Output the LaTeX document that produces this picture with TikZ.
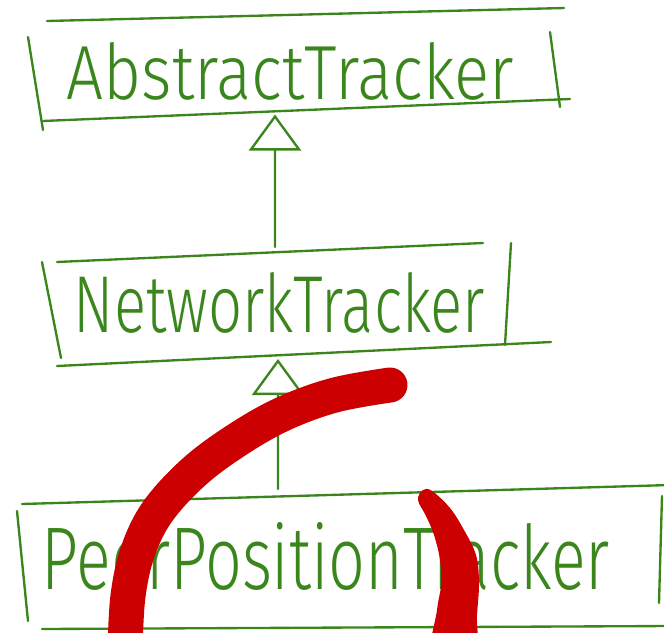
\documentclass[tikz,border=0pt]{standalone}
\usepackage{fontspec}
\newfontfamily\hand{Fira Sans Light}
\usetikzlibrary{arrows.meta}
\definecolor{pen}{RGB}{58,134,28}
\definecolor{marker}{RGB}{204,0,0}
\tikzset{
  cls/.style={inner sep=0,outer sep=0,text=pen},
  sketch/.style={draw=pen,line width=2pt,line cap=round},
  isa/.style={sketch,-{Triangle[open,fill=white,length=1.08cm,width=1.56cm]}},
  redpen/.style={draw=marker,line width=1.05cm,line cap=round},
}
\begin{document}
\begin{tikzpicture}[x=0.03cm,y=-0.03cm]
	\clip (0,0) rectangle (664,632);
	\node[cls,minimum width=15.6cm,minimum height=2.58cm] (abs) at (290.5,71.5) {\resizebox{13.41cm}{1.71cm}{\hand AbstractTracker}};
	\node[cls,minimum width=13.8cm,minimum height=3.36cm] (net) at (279.5,303) {\resizebox{12.33cm}{1.8cm}{\hand NetworkTracker}};
	\node[cls,minimum width=19cm,minimum height=4.05cm] (peer) at (326,556.5) {\resizebox{17.04cm}{2.01cm}{\hand PeerPositionTracker}};
	\draw[sketch] (47,21) -- (564,8);
	\draw[sketch] (28,37) -- (43,130);
	\draw[sketch] (43,121) -- (570,99);
	\draw[sketch] (550,32) -- (560,107);
	\draw[sketch] (57,262) -- (483,243);
	\draw[sketch] (42,262) -- (61,358);
	\draw[sketch] (57,366) -- (551,342);
	\draw[sketch] (511,243) -- (505,345);
	\draw[sketch] (22,504) -- (670,485);
	\draw[sketch] (17,511) -- (28,621);
	\draw[sketch] (662,496) -- (659,603);
	\draw[sketch] (42,629) -- (670,626);
	\draw[isa] ([xshift=-0.135cm]net.north) -- ([xshift=-0.465cm]abs.south);
	\draw[isa] ([xshift=-1.44cm]peer.north) -- ([xshift=-0.045cm]net.south);
	\draw[redpen] plot[smooth,tension=0.6] coordinates {(390,385) (335,395) (285,413) (240,438) (195,471) (158,511) (138,551) (128,596) (125,650)};
	\fill[marker] plot[smooth cycle,tension=0.6] coordinates {(418,500) (423,490) (432,491) (450,508) (464,530) (476,555) (479,583) (477,615) (474,660) (432,660) (437,610) (441,585) (440,560) (434,535) (426,516)};
\end{tikzpicture}
\end{document}
